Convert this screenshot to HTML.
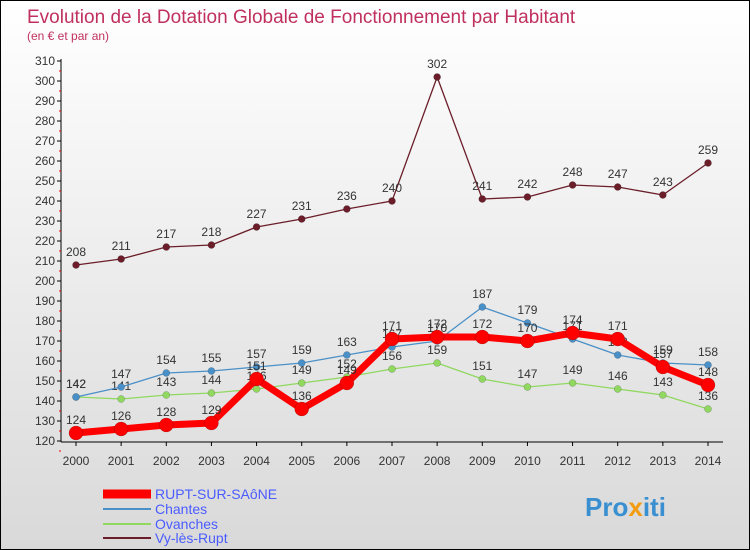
<!DOCTYPE html>
<html><head><meta charset="utf-8"><style>
body{margin:0}
#c{width:748px;height:548px;border:1px solid #000;background:linear-gradient(#fff,#d9d9d9);position:relative;font-family:"Liberation Sans",sans-serif;overflow:hidden}
</style></head><body>
<div id="c">
<svg id="s" width="748" height="548" style="position:absolute;left:0;top:0" font-family="Liberation Sans, sans-serif">
<text x="26" y="22" font-size="19" fill="#c0305f">Evolution de la Dotation Globale de Fonctionnement par Habitant</text>
<text x="26" y="39" font-size="12" fill="#c0305f">(en € et par an)</text>
<g id="ax"></g><g id="ser"></g>
<g>
<line x1="102" y1="493" x2="150" y2="493" stroke="#f00" stroke-width="9"/>
<text x="154" y="498" font-size="14" fill="#4a5cff">RUPT-SUR-SAôNE</text>
<line x1="102" y1="508" x2="150" y2="508" stroke="#4a90c8" stroke-width="2"/>
<text x="154" y="513" font-size="14" fill="#4a5cff">Chantes</text>
<line x1="102" y1="523" x2="150" y2="523" stroke="#90d860" stroke-width="2"/>
<text x="154" y="528" font-size="14" fill="#4a5cff">Ovanches</text>
<line x1="102" y1="537" x2="150" y2="537" stroke="#6b1e2a" stroke-width="2"/>
<text x="154" y="542" font-size="14" fill="#4a5cff">Vy-lès-Rupt</text>
</g>
<text x="584" y="515" font-size="26" font-weight="bold" fill="#3a8fd0">Pro<tspan fill="#f39c12">x</tspan>iti</text>
</svg>
</div>
<script>
const years=["2000","2001","2002","2003","2004","2005","2006","2007","2008","2009","2010","2011","2012","2013","2014"];
const yTicks=[120,130,140,150,160,170,180,190,200,210,220,230,240,250,260,270,280,290,300,310];
const rupt=[124,126,128,129,151,136,149,171,172,172,170,174,171,157,148];
const chantes=[142,147,154,155,157,159,163,167,170,187,179,171,163,159,158];
const ovanches=[142,141,143,144,146,149,152,156,159,151,147,149,146,143,136];
const vy=[208,211,217,218,227,231,236,240,302,241,242,248,247,243,259];
const NS="http://www.w3.org/2000/svg";
const X=i=>75+i*(632/14), Y=v=>60+(310-v)*2;
function mk(t,a,p){const e=document.createElementNS(NS,t);for(const k in a)e.setAttribute(k,a[k]);p.appendChild(e);return e;}
const ax=document.getElementById('ax');
const yl=mk('line',{x1:60,y1:58,x2:60,y2:441,stroke:'#000'},ax);


yTicks.forEach(v=>{
 mk('line',{x1:56,y1:Y(v),x2:60,y2:Y(v),stroke:'#000'},ax);
 mk('line',{x1:58,y1:Y(v)+10,x2:60,y2:Y(v)+10,stroke:'#f00'},ax);
 const t=mk('text',{x:54,y:Y(v)+4,'font-size':12,fill:'#333','text-anchor':'end'},ax);t.textContent=v;
 
 
});
const xl=mk('line',{x1:60,y1:441,x2:722,y2:441,stroke:'#000'},ax);


years.forEach((y,i)=>{
 mk('line',{x1:X(i),y1:441,x2:X(i),y2:445,stroke:'#000'},ax);
 const t=mk('text',{x:X(i),y:464,'font-size':12,fill:'#333','text-anchor':'middle'},ax);t.textContent=y;
 
 
});
const ser=document.getElementById('ser');
function draw(d,color,w,r,name){
 const g=mk('g',{},ser);
 
 
 mk('polyline',{points:d.map((v,i)=>X(i)+','+Y(v)).join(' '),fill:'none',stroke:color,'stroke-width':w,'stroke-linejoin':'round'},g);
 d.forEach((v,i)=>{
  const c=mk('circle',{cx:X(i),cy:Y(v),r:r,fill:color,stroke:'rgba(0,0,0,0.3)','stroke-width':0.5},g);
  
  
  const t=mk('text',{x:X(i),y:Y(v)-9,'font-size':12,fill:'#333','text-anchor':'middle'},g);t.textContent=v;
 });
}
draw(vy,'#6b1e2a',1.3,3.5,'series-vy-les-rupt');
draw(ovanches,'#90d860',1.3,3.5,'series-ovanches');
draw(chantes,'#4a90c8',1.3,3.5,'series-chantes');
draw(rupt,'#f00',7,7,'series-rupt-sur-saone');
</script>
</body></html>
